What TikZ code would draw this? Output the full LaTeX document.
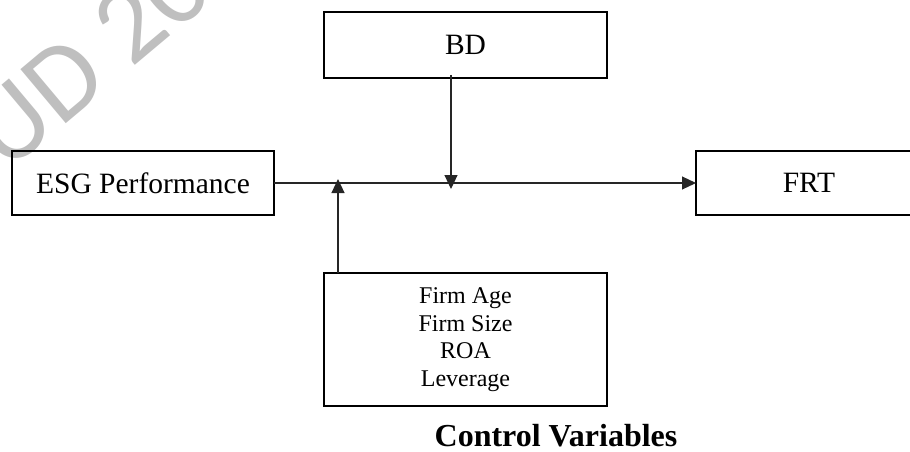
\documentclass[tikz,border=0pt]{standalone}
\usepackage{fontspec}
\setmainfont{Liberation Serif}
\newfontfamily\markfont{Carlito}
\usepackage{tikz}
\usetikzlibrary{positioning}
\usetikzlibrary{arrows.meta}

\begin{document}
\begin{tikzpicture}
        [x=1pt,y=-1pt,
         varbox/.style={draw,rectangle,line width=1.5pt,outer sep=0pt,inner sep=0pt,
                        minimum width=283pt,minimum height=66pt,font=\fontsize{29.5}{35}\selectfont},
         link/.style={line width=1.1pt,draw=black!85,-{Triangle[length=14pt,width=13pt]}}]
        \useasboundingbox (0,0) rectangle (910,452);
        % watermark
        \node[anchor=base west,rotate=40,text=black!25,font=\markfont\fontsize{110}{110}\selectfont]
             (wm) at (4,176) {UD 20};

        \node[varbox,minimum width=262pt,minimum height=64pt]  (esg) at (143,183) {ESG Performance};
        \node[varbox,minimum width=226pt,minimum height=64pt]  (frt) [right=422pt of esg] {};
        \node[font=\fontsize{29.5}{35}\selectfont] (frtt) at (809,183) {FRT};
        \node[varbox]  (bd) at (465.5,45) {BD};
        \node[varbox,minimum height=133pt,align=center,
              font=\fontsize{24}{27.7}\selectfont]  (ctrl) [below=195pt of bd]
              {Firm Age\\Firm Size\\ROA\\Leverage};
        \node[anchor=base,font=\bfseries\fontsize{32}{36}\selectfont] (cvlab) at (556,446) {Control Variables};

        \coordinate (bdhit) at (451,189);
        \coordinate (cvhit) at (338,179);

        \draw [link] (esg.east) -- (frt.west);
        \draw [link] (bd.south -| bdhit) ++(0,-3) -- (bdhit);
        \draw [link] (ctrl.north -| cvhit) -- (cvhit);
       \end{tikzpicture}
\end{document}
